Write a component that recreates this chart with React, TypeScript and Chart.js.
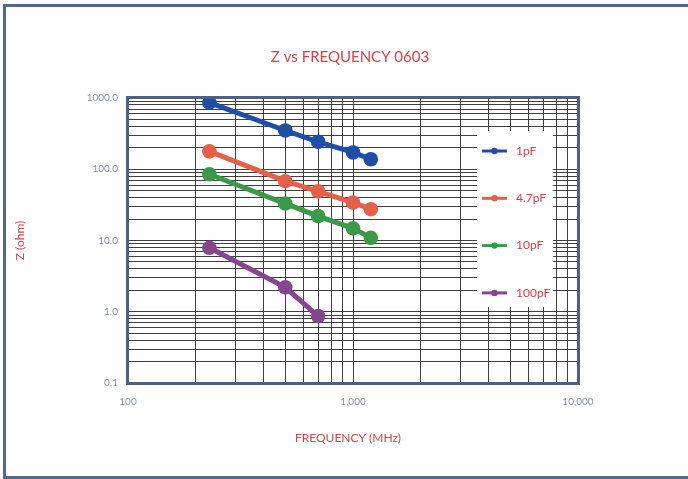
import React, { useEffect, useRef } from 'react';
import { Chart, registerables } from 'chart.js';

Chart.register(...registerables);

// ---- data ----
const frequenciesMHz = [230, 500, 700, 1000, 1200];
const seriesLabels = ['1pF', '4.7pF', '10pF', '100pF'];
const z1pF = [860, 350, 243, 172, 138];
const z4p7pF = [178, 68, 49, 34, 27.5];
const z10pF = [85, 33, 22, 14.8, 10.9];
const z100pF = [7.9, 2.2, 0.87];
const seriesColors = ['#1f4ea6', '#e4604a', '#3a9a48', '#86468f'];
const yDecadeTicks = [0.1, 1, 10, 100, 1000];
const xDecadeTicks = [100, 1000, 10000];
const chartTitle = 'Z vs FREQUENCY 0603';
const xAxisTitle = 'FREQUENCY (MHz)';
const yAxisTitle = 'Z (ohm)';

const FONT = 'Lato, "Open Sans", sans-serif';
const RED = '#cf444c';
const TICK_COLOR = '#8793aa';
const FRAME = '#546887';

function gridValues(decades: number[]) {
  const out: number[] = [];
  for (let i = 0; i < decades.length - 1; i++) {
    for (let k = 1; k <= 9; k++) out.push(k === 1 ? decades[i] : decades[i] * k);
  }
  out.push(decades[decades.length - 1]);
  return out;
}

const allSeries = [z1pF, z4p7pF, z10pF, z100pF];

const legendPlugin = {
  id: 'customLegendAndBorder',
  afterDraw(chart: any) {
    const { ctx, chartArea } = chart;
    ctx.save();
    // titles
    ctx.fillStyle = RED;
    ctx.textAlign = 'center';
    ctx.textBaseline = 'middle';
    ctx.font = `15px ${FONT}`;
    ctx.fillText(chartTitle, 350, 57);
    ctx.font = `12px ${FONT}`;
    ctx.fillText(xAxisTitle, 348, 438);
    // legend box
    const bx = 477, by = 131, bw = 76, bh = 176;
    ctx.fillStyle = '#ffffff';
    ctx.fillRect(bx, by, bw, bh);
    chart.data.datasets.forEach((ds: any, i: number) => {
      const cy = 151 + i * 47.3;
      ctx.strokeStyle = ds.borderColor;
      ctx.lineWidth = 3;
      ctx.beginPath();
      ctx.moveTo(482, cy);
      ctx.lineTo(507, cy);
      ctx.stroke();
      ctx.fillStyle = ds.borderColor;
      ctx.beginPath();
      ctx.arc(494.5, cy, 3.2, 0, Math.PI * 2);
      ctx.fill();
      ctx.fillStyle = RED;
      ctx.font = `12px ${FONT}`;
      ctx.textBaseline = 'middle';
      ctx.textAlign = 'left';
      ctx.fillText(ds.label, 516, cy);
    });
    // plot border
    ctx.strokeStyle = '#4d6184';
    ctx.lineWidth = 3;
    ctx.strokeRect(chartArea.left - 0.5, chartArea.top - 0.5, chartArea.right - chartArea.left + 1, chartArea.bottom - chartArea.top + 1);
    ctx.restore();
  },
};

export default function App() {
  const ref = useRef<HTMLCanvasElement>(null);

  useEffect(() => {
    if (!ref.current) return;
    const xGrid = gridValues(xDecadeTicks);
    const yGrid = gridValues(yDecadeTicks);
    const chart = new Chart(ref.current, {
      type: 'line',
      data: {
        datasets: allSeries.map((vals, i) => ({
          label: seriesLabels[i],
          data: vals.map((v, j) => ({ x: frequenciesMHz[j], y: v })),
          borderColor: seriesColors[i],
          backgroundColor: seriesColors[i],
          pointBackgroundColor: seriesColors[i],
          pointBorderColor: seriesColors[i],
          borderWidth: 5,
          pointRadius: 7.3,
          pointBorderWidth: 0,
          tension: 0,
          fill: false,
        })),
      },
      options: {
        animation: false,
        responsive: false,
        maintainAspectRatio: false,
        layout: { padding: { left: 0, right: 110, top: 98, bottom: 0 } },
        plugins: {
          legend: { display: false },
          tooltip: { enabled: false },
          title: { display: false },
        },
        scales: {
          x: {
            type: 'logarithmic',
            position: 'bottom',
            min: 100,
            max: 10000,
            afterBuildTicks: (s: any) => {
              s.ticks = xGrid.map((v) => ({ value: v }));
            },
            afterFit: (s: any) => {
              s.height = 96;
            },
            ticks: {
              autoSkip: false,
              maxRotation: 0,
              minRotation: 0,
              padding: 13,
              color: TICK_COLOR,
              font: { family: FONT, size: 10 },
              callback: (v: any) => (xDecadeTicks.includes(v) ? Number(v).toLocaleString('en-US') : ''),
            },
            grid: { color: '#3f3f3f', lineWidth: 1, drawTicks: false },
            border: { display: false },
            title: { display: false },
          },
          y: {
            type: 'logarithmic',
            position: 'left',
            min: 0.1,
            max: 1000,
            afterBuildTicks: (s: any) => {
              s.ticks = yGrid.map((v) => ({ value: v }));
            },
            afterFit: (s: any) => {
              s.width = 128;
            },
            ticks: {
              autoSkip: false,
              padding: 10,
              color: TICK_COLOR,
              font: { family: FONT, size: 10 },
              callback: (v: any) => (yDecadeTicks.includes(v) ? Number(v).toFixed(1) : ''),
            },
            grid: { color: '#3f3f3f', lineWidth: 1, drawTicks: false },
            border: { display: false },
            title: {
              display: true,
              text: yAxisTitle,
              color: RED,
              font: { family: FONT, size: 12 },
              padding: { top: 13, bottom: 0 },
            },
          },
        },
      } as any,
      plugins: [legendPlugin],
    });
    return () => chart.destroy();
  }, []);

  return (
    <div style={{ position: 'fixed', left: 0, top: 0, width: 688, height: 479, background: '#fff' }}>
      <div
        style={{
          position: 'absolute',
          left: 3,
          top: 4,
          width: 682,
          height: 469,
          borderTop: `3px solid ${FRAME}`,
          borderLeft: `3px solid ${FRAME}`,
          borderBottom: `3px solid ${FRAME}`,
        }}
      />
      <canvas ref={ref} width={688} height={479} style={{ position: 'absolute', left: 0, top: 0, width: 688, height: 479 }} />
    </div>
  );
}
